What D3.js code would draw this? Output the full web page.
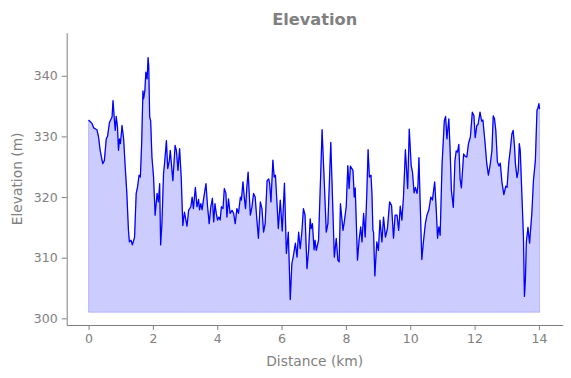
<!DOCTYPE html>
<html>
<head>
<meta charset="utf-8">
<script src="https://cdn.jsdelivr.net/npm/d3@7"></script>
<style>
  body { margin: 0; background: #fff; }
  svg text { font-family: "DejaVu Sans", sans-serif; fill: #808080; }
</style>
</head>
<body>
<div id="chart"></div>
<script>
// profile values (km, m)
const distanceKm = [
  0, 0.11, 0.16, 0.26, 0.31, 0.36, 0.44, 0.49, 0.55, 0.59,
  0.65, 0.73, 0.76, 0.80, 0.83, 0.86, 0.90, 0.93, 0.96, 0.99,
  1.04, 1.09, 1.14, 1.19, 1.24, 1.27, 1.32, 1.36, 1.40, 1.43,
  1.48, 1.52, 1.57, 1.61, 1.65, 1.69, 1.71, 1.75, 1.78, 1.82,
  1.85, 1.87, 1.90, 1.93, 1.97, 2.02, 2.07, 2.13, 2.17, 2.21,
  2.24, 2.28, 2.33, 2.37, 2.42, 2.46, 2.51, 2.54, 2.62, 2.69,
  2.73, 2.78, 2.83, 2.88, 2.93, 2.98, 3.06, 3.11, 3.18, 3.22,
  3.26, 3.32, 3.37, 3.42, 3.45, 3.49, 3.53, 3.57, 3.65, 3.70,
  3.75, 3.80, 3.85, 3.89, 3.93, 3.97, 4.01, 4.05, 4.09, 4.13,
  4.18, 4.22, 4.27, 4.30, 4.35, 4.40, 4.46, 4.51, 4.56, 4.61,
  4.66, 4.72, 4.75, 4.80, 4.84, 4.88, 4.92, 4.96, 5.03, 5.08,
  5.13, 5.18, 5.23, 5.28, 5.34, 5.39, 5.44, 5.49, 5.55, 5.60,
  5.63, 5.67, 5.73, 5.77, 5.81, 5.90, 5.96, 6.02, 6.09, 6.15,
  6.21, 6.27, 6.32, 6.37, 6.43, 6.48, 6.53, 6.58, 6.63, 6.68,
  6.73, 6.79, 6.84, 6.89, 6.92, 6.96, 7.01, 7.04, 7.08, 7.15,
  7.26, 7.33, 7.39, 7.44, 7.53, 7.64, 7.70, 7.75, 7.79, 7.83,
  7.91, 7.95, 8.01, 8.06, 8.10, 8.14, 8.22, 8.26, 8.29, 8.36,
  8.41, 8.46, 8.50, 8.55, 8.60, 8.65, 8.69, 8.73, 8.78, 8.81,
  8.84, 8.86, 8.90, 8.96, 9.01, 9.06, 9.12, 9.17, 9.23, 9.29,
  9.36, 9.42, 9.48, 9.53, 9.59, 9.64, 9.69, 9.74, 9.79, 9.85,
  9.92, 9.97, 10.03, 10.07, 10.12, 10.16, 10.21, 10.24, 10.27, 10.31,
  10.36, 10.41, 10.47, 10.52, 10.58, 10.64, 10.69, 10.76, 10.81, 10.85,
  10.89, 10.93, 10.99, 11.06, 11.10, 11.14, 11.20, 11.24, 11.28, 11.34,
  11.39, 11.43, 11.47, 11.51, 11.55, 11.59, 11.66, 11.71, 11.76, 11.81,
  11.87, 11.93, 11.98, 12.02, 12.07, 12.11, 12.17, 12.22, 12.26, 12.32,
  12.38, 12.43, 12.49, 12.54, 12.58, 12.62, 12.66, 12.71, 12.76, 12.80,
  12.85, 12.91, 12.97, 13.01, 13.06, 13.11, 13.16, 13.20, 13.24, 13.27,
  13.32, 13.36, 13.39, 13.42, 13.47, 13.52, 13.55, 13.58, 13.61, 13.66,
  13.71, 13.78, 13.83, 13.89, 13.94, 13.97, 14.00, 14.02
];
const elevationM = [
  332.7, 332.1, 331.4, 331.1, 329.9, 327.7, 325.5, 326.0, 329.6, 330.0,
  332.3, 333.2, 335.9, 332.9, 331.0, 333.3, 331.5, 327.7, 329.6, 328.8,
  331.8, 329.6, 324.9, 320.6, 314.5, 312.6, 312.9, 312.1, 312.8, 313.4,
  320.6, 321.6, 323.6, 323.3, 328.8, 337.5, 336.2, 337.5, 340.6, 339.5,
  343.0, 341.7, 333.2, 332.6, 326.6, 323.3, 317.0, 320.6, 319.2, 322.2,
  312.1, 315.6, 323.8, 326.0, 329.3, 324.7, 326.0, 327.7, 322.7, 328.5,
  327.7, 324.4, 328.0, 323.3, 315.3, 317.5, 315.2, 317.8, 318.4, 320.0,
  318.1, 321.6, 318.4, 319.6, 317.9, 318.9, 317.9, 319.5, 322.2, 318.4,
  315.6, 318.4, 319.8, 315.9, 318.9, 317.3, 316.2, 316.7, 316.2, 318.4,
  318.1, 321.4, 320.6, 316.7, 319.7, 317.3, 317.8, 317.3, 315.6, 318.1,
  317.3, 320.0, 319.5, 322.5, 320.0, 318.1, 321.6, 324.1, 317.0, 318.4,
  320.6, 320.0, 316.4, 313.2, 319.2, 318.1, 314.2, 315.6, 322.7, 323.0,
  322.2, 319.2, 326.1, 323.3, 323.6, 314.8, 319.5, 314.4, 322.3, 310.7,
  314.2, 303.1, 309.0, 310.4, 312.4, 310.1, 314.2, 311.5, 314.2, 318.1,
  317.0, 308.2, 311.2, 316.4, 314.8, 315.6, 311.3, 312.9, 311.2, 312.9,
  331.1, 322.2, 314.2, 315.6, 329.0, 310.1, 313.2, 309.6, 309.3, 318.9,
  314.5, 315.9, 318.4, 325.2, 321.4, 325.1, 324.4, 320.0, 321.5, 309.6,
  312.9, 315.1, 312.6, 317.3, 313.4, 320.6, 327.8, 323.3, 323.6, 320.6,
  314.5, 314.2, 307.0, 312.6, 311.2, 316.2, 312.6, 316.7, 313.4, 314.8,
  319.2, 318.6, 313.2, 317.0, 317.0, 314.5, 318.5, 316.2, 320.0, 327.8,
  321.4, 331.2, 325.2, 324.1, 320.7, 321.6, 320.6, 321.9, 326.5, 318.9,
  309.7, 312.6, 315.6, 317.0, 317.9, 320.0, 319.5, 322.5, 317.8, 313.2,
  315.1, 313.7, 325.5, 332.6, 333.3, 329.6, 332.9, 327.7, 321.1, 318.3,
  326.0, 327.6, 327.4, 328.7, 323.0, 321.5, 327.1, 326.7, 326.6, 328.8,
  329.9, 334.0, 333.4, 329.8, 331.8, 332.0, 334.0, 332.5, 332.7, 329.3,
  325.5, 323.6, 325.5, 327.7, 333.4, 332.9, 331.0, 325.8, 325.1, 325.6,
  322.5, 320.4, 321.8, 321.6, 325.5, 327.8, 330.4, 331.0, 328.5, 325.5,
  323.2, 324.4, 328.8, 327.7, 320.6, 313.4, 303.6, 306.3, 312.6, 315.0,
  312.4, 317.3, 322.7, 326.0, 334.3, 334.7, 335.4, 334.5
];
const baseElevation = 301;
const xTicks = [0, 2, 4, 6, 8, 10, 12, 14];
const yTicks = [300, 310, 320, 330, 340];

const margin = { top: 32.7, right: 8.3, bottom: 53, left: 66.7 };
const width = 571 - margin.left - margin.right,
  height = 378 - margin.top - margin.bottom;

const points = distanceKm.map((d, i) => ({ d: d, e: elevationM[i] }));

const x = d3.scaleLinear().domain([-0.68, 14.74]).range([0, width]);
const y = d3.scaleLinear().domain([298.9, 347.1]).range([height, 0]);

const svg = d3.select("#chart").append("svg")
  .attr("width", 571)
  .attr("height", 378);

const g = svg.append("g")
  .attr("transform", "translate(" + margin.left + "," + margin.top + ")");

// filled area under the profile
const area = d3.area()
  .x(p => x(p.d))
  .y0(y(baseElevation))
  .y1(p => y(p.e));

g.append("path")
  .datum(points)
  .attr("d", area)
  .attr("fill", "blue")
  .attr("fill-opacity", 0.2)
  .attr("stroke", "blue")
  .attr("stroke-opacity", 0.2)
  .attr("stroke-width", 1);

const line = d3.line().x(p => x(p.d)).y(p => y(p.e));

g.append("path")
  .datum(points)
  .attr("d", line)
  .attr("fill", "none")
  .attr("stroke", "#0000ff")
  .attr("stroke-width", 1.25)
  .attr("stroke-linejoin", "round");

// axes
const xAxis = g.append("g")
  .attr("transform", "translate(0," + height + ")")
  .call(d3.axisBottom(x).tickValues(xTicks).tickSize(5).tickPadding(4).tickSizeOuter(0));
const yAxis = g.append("g")
  .call(d3.axisLeft(y).tickValues(yTicks).tickSize(5).tickPadding(4).tickSizeOuter(0));

[xAxis, yAxis].forEach(a => {
  a.select(".domain").attr("stroke", "#808080").attr("stroke-width", 1);
  a.selectAll(".tick line").attr("stroke", "#808080");
  a.selectAll(".tick text")
    .attr("fill", "#808080")
    .style("font-size", "12.5px")
    .style("font-family", "DejaVu Sans");
});

// labels
svg.append("text")
  .attr("x", margin.left + width / 2)
  .attr("y", 25)
  .attr("text-anchor", "middle")
  .style("font-size", "16.2px")
  .style("font-weight", "bold")
  .text("Elevation");

svg.append("text")
  .attr("x", margin.left + width / 2)
  .attr("y", 366)
  .attr("text-anchor", "middle")
  .style("font-size", "13.8px")
  .text("Distance (km)");

svg.append("text")
  .attr("transform", "translate(21.5," + (margin.top + height / 2) + ") rotate(-90)")
  .attr("text-anchor", "middle")
  .style("font-size", "13.8px")
  .text("Elevation (m)");
</script>
</body>
</html>
